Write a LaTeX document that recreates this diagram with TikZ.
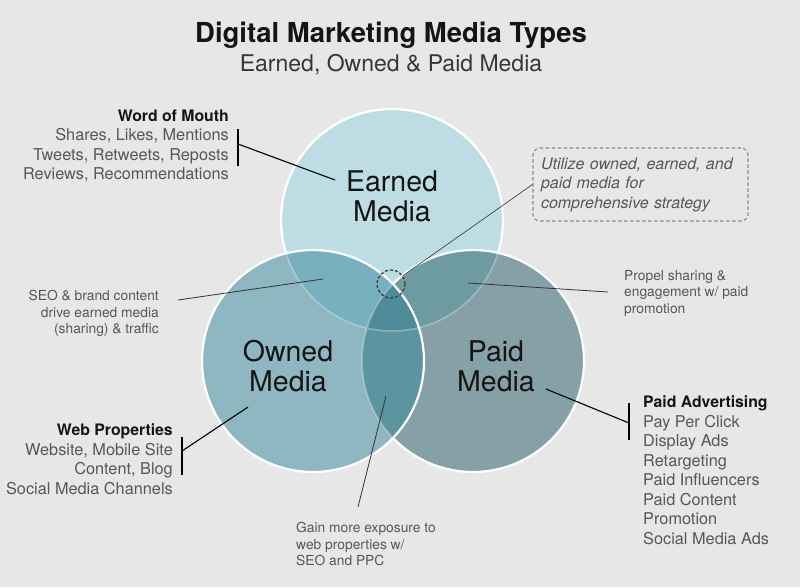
\documentclass[tikz,border=0pt]{standalone}
\usepackage{fontspec}
\setmainfont{TeX Gyre Heros}
\definecolor{bgc}{HTML}{E7E7E7}
\definecolor{cEc}{HTML}{BDDCE3}
\definecolor{cOc}{HTML}{8FB7C2}
\definecolor{cPc}{HTML}{85A0A6}
\definecolor{cEOc}{HTML}{79B0BF}
\definecolor{cEPc}{HTML}{6E9AA2}
\definecolor{cOPc}{HTML}{5C94A0}
\definecolor{cEOPc}{HTML}{4F8C9B}
\definecolor{txtg}{HTML}{575757}
\definecolor{txtd}{HTML}{141414}
\definecolor{dashc}{HTML}{8A8A8A}
\definecolor{dcirc}{HTML}{3F3F30}
\tikzset{
  ring/.style={white, line width=2.2pt},
  faintring/.style={white, opacity=0.3, line width=1.6pt},
  biglabel/.style={font=\fontsize{28.5}{30}\selectfont, text=txtd, align=center, inner sep=0pt, anchor=north},
  listtxt/.style={font=\fontsize{16.3}{19.5}\selectfont, text=txtg, inner sep=0pt},
  smalltxt/.style={font=\fontsize{13.8}{16.5}\selectfont, text=txtg, inner sep=0pt},
  bracket/.style={black, line width=1.4pt},
  thinline/.style={draw=black!80, line width=0.8pt},
}
\begin{document}
\begin{tikzpicture}[x=1pt,y=-1pt]
\useasboundingbox (0,0) rectangle (800,587);
\fill[bgc] (0,0) rectangle (800,587);

% circle centres
\coordinate (cE) at (392,220);
\coordinate (cO) at (313,361);
\coordinate (cP) at (473,361);

% Earned
\fill[cEc] (cE) circle (111);
\draw[ring] (cE) circle (111);
% Paid
\fill[cPc] (cP) circle (111);
\begin{scope}
  \clip (cP) circle (111);
  \fill[cEPc] (cE) circle (111);
\end{scope}
\draw[ring] (cP) circle (111);
% Owned
\fill[cOc] (cO) circle (111);
\begin{scope}
  \clip (cO) circle (111);
  \fill[cEOc] (cE) circle (111);
  \fill[cOPc] (cP) circle (111);
  \clip (cE) circle (111);
  \fill[cEOPc] (cP) circle (111);
\end{scope}
\draw[ring] (cO) circle (111);
\draw[faintring] (cE) circle (111) (cP) circle (111);

% titles
\node (title) [anchor=base, inner sep=0pt, font=\fontsize{27.5}{30}\selectfont\bfseries, text=txtd] at (391,42) {Digital Marketing Media Types};
\node (subtitle) [anchor=base, inner sep=0pt, font=\fontsize{23}{26}\selectfont, text=txtd!85] at (391,71) {Earned, Owned \& Paid Media};

% circle labels
\node (tE) [biglabel] at (392,170.5) {Earned\\Media};
\node (tO) [biglabel] at (288,340.5) {Owned\\Media};
\node (tP) [biglabel] at (496,340.5) {Paid\\Media};

% Word of Mouth
\node (wom) [listtxt, anchor=north east, align=right] at (229,109.6)
  {{\fontsize{15.8}{19.5}\selectfont\bfseries\color{txtd}Word of Mouth}\\
   Shares, Likes, Mentions\\Tweets, Retweets, Reposts\\Reviews, Recommendations};
\coordinate (womT) at (238,129);
\coordinate (womB) at (238,166);
\coordinate (womM) at (238,144);
\coordinate (womE) at (335,180);
\draw[bracket] (womT) -- (womB);
\draw[bracket, line width=1.1pt] (womM) -- (womE);

% Web Properties
\node (web) [listtxt, anchor=north east, align=right] at (173,423.6)
  {{\fontsize{15.8}{19.5}\selectfont\bfseries\color{txtd}Web Properties}\\
   Website, Mobile Site\\Content, Blog\\Social Media Channels};
\coordinate (webT) at (182,437);
\coordinate (webB) at (182,475);
\coordinate (webM) at (182,451);
\coordinate (webE) at (248,407);
\draw[bracket] (webT) -- (webB);
\draw[bracket, line width=1.1pt] (webM) -- (webE);

% Paid Advertising
\node (padv) [listtxt, anchor=north west, align=left] at (643,395.6)
  {{\fontsize{15.8}{19.5}\selectfont\bfseries\color{txtd}Paid Advertising}\\
   Pay Per Click\\Display Ads\\Retargeting\\Paid Influencers\\Paid Content\\Promotion\\Social Media Ads};
\coordinate (padT) at (629,403);
\coordinate (padB) at (629,440);
\coordinate (padM) at (629,423);
\coordinate (padE) at (546,389);
\draw[bracket] (padT) -- (padB);
\draw[bracket, line width=1.1pt] (padM) -- (padE);

% SEO note
\node (seo) [smalltxt, anchor=north east, align=right] at (159,290)
  {SEO \& brand content\\drive earned media\\(sharing) \& traffic};
\coordinate (seoA) at (178,300);
\coordinate (seoB) at (323,279);
\draw[thinline] (seoA) -- (seoB);

% Propel note
\node (prop) [smalltxt, anchor=north west, align=left] at (624,270)
  {Propel sharing \&\\engagement w/ paid\\promotion};
\coordinate (propA) at (608,292);
\coordinate (propB) at (468,283);
\draw[thinline] (propA) -- (propB);

% Gain note
\node (gain) [smalltxt, anchor=north west, align=left] at (296,522)
  {Gain more exposure to\\web properties w/\\SEO and PPC};
\coordinate (gainA) at (358,507);
\coordinate (gainB) at (386,396);
\draw[thinline] (gainA) -- (gainB);

% callout
\node (dc) [circle, draw=dcirc, dash pattern=on 3pt off 2pt, line width=1.3pt, minimum size=28pt, inner sep=0pt] at (391,284) {};
\node (cb) [draw=dashc, dash pattern=on 3.5pt off 2.5pt, line width=1.1pt, rounded corners=7pt,
  minimum width=215pt, minimum height=73pt, text width=199pt, align=left, inner xsep=8pt,
  font=\fontsize{16}{19.5}\selectfont\itshape, text=txtg] at (640.5,184.5)
  {Utilize owned, earned, and\\paid media for\\comprehensive strategy};
\draw[thinline, line width=0.6pt] (cb.west) -- (dc);
\end{tikzpicture}
\end{document}
